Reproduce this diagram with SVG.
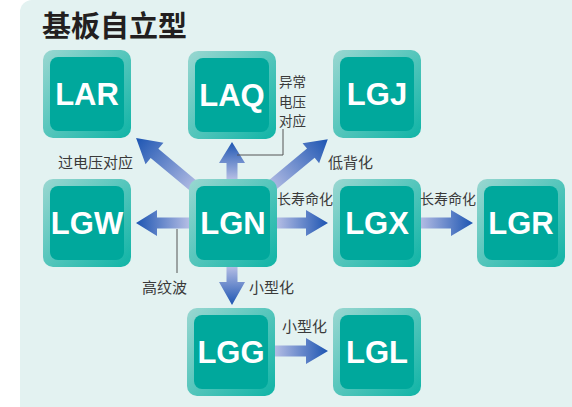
<svg xmlns="http://www.w3.org/2000/svg" width="572" height="407" viewBox="0 0 572 407">
<defs>
<linearGradient id="outerG" x1="0" y1="0" x2="1" y2="1">
<stop offset="0" stop-color="#9ad7d1"/>
<stop offset="1" stop-color="#0fb4a6"/>
</linearGradient>
<linearGradient id="arrG" x1="0" y1="0" x2="1" y2="0">
<stop offset="0" stop-color="#b4bde4"/>
<stop offset="1" stop-color="#1d55b2"/>
</linearGradient>
<style>
.outer{fill:url(#outerG)}
.inner{fill:#00a89c}
.nl{font-family:"Liberation Sans",Arial,sans-serif;font-weight:bold;font-size:31px;fill:#ffffff;text-anchor:middle}
.lb{font-family:"Noto Sans CJK SC","Noto Sans",sans-serif;font-size:15px;fill:#3a3a3a}
.lb14{font-family:"Noto Sans CJK SC","Noto Sans",sans-serif;font-size:14px;fill:#3a3a3a}
.lbv{font-family:"Noto Sans CJK SC","Noto Sans",sans-serif;font-size:13.5px;fill:#3a3a3a}
.ttl{font-family:"Noto Sans CJK SC","Noto Sans",sans-serif;font-weight:bold;font-size:29px;fill:#231f20}
.ld{fill:none;stroke:#555;stroke-width:1}
.arr{fill:url(#arrG)}
</style>
</defs>
<rect x="0" y="0" width="572" height="407" fill="#ffffff"/>
<rect x="20" y="0" width="570" height="430" rx="12" fill="#e3f2f1"/>
<text class="ttl" x="42" y="37">基板自立型</text>

<g id="connectors">
<polygon class="arr" transform="translate(189,223) rotate(180)" points="0,-5.5 32,-5.5 32,-13 53,0 32,13 32,5.5 0,5.5"/>
<polygon class="arr" transform="translate(277,223)" points="0,-5.5 29,-5.5 29,-13 51,0 29,13 29,5.5 0,5.5"/>
<polygon class="arr" transform="translate(420,223)" points="0,-5.5 31,-5.5 31,-13 53,0 31,13 31,5.5 0,5.5"/>
<polygon class="arr" transform="translate(232,267) rotate(90)" points="0,-5.5 15,-5.5 15,-13 38,0 15,13 15,5.5 0,5.5"/>
<polygon class="arr" transform="translate(275,351)" points="0,-5.5 31,-5.5 31,-13 53,0 31,13 31,5.5 0,5.5"/>
<polygon class="arr" transform="translate(232,179) rotate(-90)" points="0,-5.5 16,-5.5 16,-13 37,0 16,13 16,5.5 0,5.5"/>
<polygon class="arr" transform="translate(196,188) rotate(219.8)" points="0,-6 54,-6 54,-14 78,0 54,14 54,6 0,6"/>
<polygon class="arr" transform="translate(270,187) rotate(-39.6)" points="0,-6 53,-6 53,-13 75,0 53,13 53,6 0,6"/>
<polyline class="ld" points="283,129 283,155 237,155"/>
<line class="ld" x1="177" y1="229" x2="177" y2="273"/>
</g>

<g id="LAR"><rect class="outer" x="43" y="50" width="88" height="88" rx="10"/><rect class="inner" x="50" y="57" width="74" height="74" rx="8"/><text class="nl" x="87" y="105">LAR</text></g>
<g id="LAQ"><rect class="outer" x="188" y="51" width="88" height="88" rx="10"/><rect class="inner" x="195" y="58" width="74" height="74" rx="8"/><text class="nl" x="232" y="106">LAQ</text></g>
<g id="LGJ"><rect class="outer" x="333" y="50" width="88" height="88" rx="10"/><rect class="inner" x="340" y="57" width="74" height="74" rx="8"/><text class="nl" x="377" y="105">LGJ</text></g>
<g id="LGW"><rect class="outer" x="43" y="179" width="88" height="88" rx="10"/><rect class="inner" x="50" y="186" width="74" height="74" rx="8"/><text class="nl" x="87" y="234">LGW</text></g>
<g id="LGN"><rect class="outer" x="189" y="179" width="88" height="88" rx="10"/><rect class="inner" x="196" y="186" width="74" height="74" rx="8"/><text class="nl" x="233" y="234">LGN</text></g>
<g id="LGX"><rect class="outer" x="333" y="179" width="88" height="88" rx="10"/><rect class="inner" x="340" y="186" width="74" height="74" rx="8"/><text class="nl" x="377" y="234">LGX</text></g>
<g id="LGR"><rect class="outer" x="477" y="179" width="88" height="88" rx="10"/><rect class="inner" x="484" y="186" width="74" height="74" rx="8"/><text class="nl" x="521" y="234">LGR</text></g>
<g id="LGG"><rect class="outer" x="187" y="308" width="88" height="88" rx="10"/><rect class="inner" x="194" y="315" width="74" height="74" rx="8"/><text class="nl" x="231" y="363">LGG</text></g>
<g id="LGL"><rect class="outer" x="333" y="308" width="88" height="88" rx="10"/><rect class="inner" x="340" y="315" width="74" height="74" rx="8"/><text class="nl" x="377" y="363">LGL</text></g>

<g id="labels">
<text class="lb" x="58" y="168">过电压对应</text>
<text class="lbv" x="279" y="87">异常</text>
<text class="lbv" x="279" y="106.5">电压</text>
<text class="lbv" x="279" y="126">对应</text>
<text class="lb" x="328" y="168">低背化</text>
<text class="lb" x="142" y="293">高纹波</text>
<text class="lb14" x="277" y="204">长寿命化</text>
<text class="lb14" x="420" y="204">长寿命化</text>
<text class="lb" x="249" y="293">小型化</text>
<text class="lb" x="282" y="332">小型化</text>
</g>
</svg>
